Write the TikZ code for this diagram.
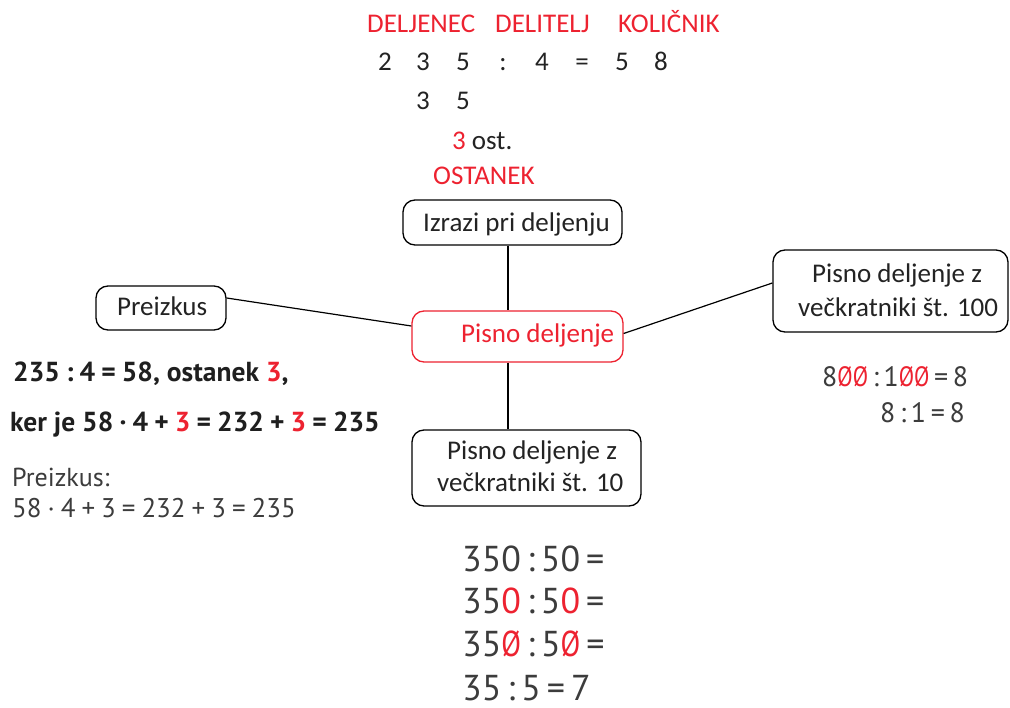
\documentclass[tikz,border=0pt]{standalone}
\usepackage{fontspec}
\usepackage{graphicx}
\setmainfont{Carlito}
\newfontfamily\tbfont{PT Sans}
\usetikzlibrary{calc}
\definecolor{dred}{RGB}{237,34,48}
\definecolor{ink}{RGB}{35,35,35}
\definecolor{tbink}{RGB}{60,60,60}
\newcommand\zslash{{\color{dred}\scalebox{0.8}[1]{Ø}}}
\newcommand\rz{{\color{dred}0}}
\newcommand\op[1]{\:#1\:}
\begin{document}
\begin{tikzpicture}[x=1pt,y=-1pt,
  lbl/.style={inner sep=0pt, anchor=base west, font=\fontsize{27}{32}\selectfont, text=ink},
  redlbl/.style={lbl, text=dred},
  dig/.style={inner sep=0pt, anchor=base, font=\fontsize{27}{32}\selectfont, text=ink},
  box/.style={draw=black, line width=1.3pt, rounded corners=12pt, inner sep=0pt},
  redbox/.style={box, draw=dred},
  conn/.style={draw=black, line width=1.2pt},
  tb/.style={inner sep=0pt, anchor=base west, text=tbink, font=\tbfont\fontsize{26}{30}\selectfont},
  tbe/.style={tb, font=\tbfont\fontsize{27}{30}\selectfont},
  tbb/.style={tb, text=black!88, font=\tbfont\bfseries\fontsize{27.5}{30}\selectfont},
  tbr/.style={tb, font=\tbfont\fontsize{28}{32}\selectfont},
  tbbig/.style={tb, font=\tbfont\fontsize{36}{40}\selectfont},
]
\useasboundingbox (0,0) rectangle (1010,708);

% top labels
\node[redlbl] (deljenec) at (367,33) {DELJENEC};
\node[redlbl] (delitelj) at (495,33) {DELITELJ};
\node[redlbl] (kolicnik) at (618,33) {KOLIČNIK};
\node[dig] (d1) at (385,71) {2};
\node[dig] (d2) at (423,71) {3};
\node[dig] (d3) at (463,71) {5};
\node[dig] (d4) at (503,71) {:};
\node[dig] (d5) at (542,71) {4};
\node[dig] (d6) at (582,71) {=};
\node[dig] (d7) at (622,71) {5};
\node[dig] (d8) at (661,71) {8};
\node[dig] (r1) at (423,110) {3};
\node[dig] (r2) at (463,110) {5};
\node[lbl] (ost) at (452,150) {{\color{dred}3} ost.};
\node[redlbl] (ostanek) at (433,185) {OSTANEK};

% boxes
\node[box, minimum width=219pt, minimum height=45pt] (iz) at (512.5,222.5) {};
\node[redbox, minimum width=211pt, minimum height=51pt] (pd) at (517.5,336.5) {};
\node[box, minimum width=229pt, minimum height=76pt] (p10) at (526.5,468) {};
\node[box, minimum width=235pt, minimum height=82pt] (p100) at (890.5,291) {};
\node[box, minimum width=130pt, minimum height=44pt] (pz) at (161,308) {};

\node[lbl] (izt) at (423,232) {Izrazi pri deljenju};
\node[redlbl] (pdt) at (461,343) {Pisno deljenje};
\node[lbl] (p10a) at (447,460) {Pisno deljenje z};
\node[lbl] (p10b) at (437,492) {večkratniki št. 10};
\node[lbl] (p100a) at (812,283) {Pisno deljenje z};
\node[lbl] (p100b) at (798,317) {večkratniki št. 100};
\node[lbl] (pzt) at (117,316) {Preizkus};

% connectors
\coordinate (cx) at (508,0);
\draw[conn] (iz.south -| cx) -- (pd.north -| cx);
\draw[conn] (pd.south -| cx) -- (p10.north -| cx);
\draw[conn] ([yshift=10pt]pz.east) -- ([yshift=10.5pt]pd.west);
\draw[conn] ([yshift=3pt]pd.east) -- ([yshift=8pt]p100.west);

% textbook texts
\node[tbb] (e1) at (13,382) {235\op{:}4\op{=}58, ostanek {\color{dred}3},};
\node[tbb] (e2) at (10,432) {ker je 58\op{·}4\op{+}{\color{dred}3}\op{=}232\op{+}{\color{dred}3}\op{=}235};
\node[tb] (e3) at (12,487) {Preizkus:};
\node[tbe] (e4) at (12,518) {58\op{·}4\op{+}3\op{=}232\op{+}3\op{=}235};

\node[tbr] (h1) at (822,387) {8\zslash\zslash\,:\,1\zslash\zslash\,=\,8};
\node[tbr] (h2) at (880,423) {8\,:\,1\,=\,8};

\node[tbbig] (b1) at (462,571) {350\,:\,50\,=};
\node[tbbig] (b2) at (462,613) {35\rz\,:\,5\rz\,=};
\node[tbbig] (b3) at (462,656) {35\zslash\,:\,5\zslash\,=};
\node[tbbig] (b4) at (462,700) {35\,:\,5\,=\,7};
\end{tikzpicture}
\end{document}
